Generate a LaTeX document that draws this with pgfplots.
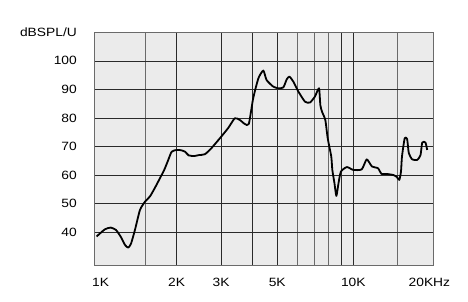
\documentclass[border=0pt]{standalone}
\usepackage{fontspec}
\setmainfont{Liberation Sans}[FakeStretch=1.15]
\usepackage{pgfplots}
\pgfplotsset{compat=1.18}
\definecolor{bgc}{HTML}{EBEBEB}
\definecolor{gridd}{HTML}{2A2A2A}
\definecolor{gridl}{HTML}{6A6A6A}
\begin{document}
\fontsize{12}{14}\selectfont
\begin{tikzpicture}
\begin{axis}[
  at={(0,0)}, anchor=south west,
  scale only axis, width=339pt, height=232.7pt,
  xmode=log, xmin=942, xmax=20670,
  ymin=28.5, ymax=110,
  axis background/.style={fill=bgc},
  axis line style={gridl, line width=0.8pt},
  xtick={2000,3000,4000,5000,9000,10000},
  xticklabels={2K,3K,,5K,,10K},
  minor xtick={1500,6000,7000,8000,15000},
  extra x ticks={1000,20000},
  extra x tick labels={1K,20KHz},
  extra x tick style={grid=none, major tick length=0pt},
  ytick={40,50,60,70,80,90,100,110},
  yticklabels={40,50,60,70,80,90,100,dBSPL/U},
  xmajorgrids, xminorgrids, ymajorgrids,
  major grid style={gridd, line width=0.7pt},
  minor grid style={gridl, line width=0.8pt},
  major tick length=0pt, minor tick length=0pt,
  xticklabel style={yshift=-9pt},
  yticklabel style={xshift=-13pt},
  /pgf/number format/assume math mode=true,
  log basis x=10,
]
\addplot[black, line width=1.8pt, smooth, tension=0.35, line join=round] coordinates {
(965,38.5) (1040,41.0) (1097,41.6) (1150,40.8) (1200,38.5) (1250,35.5) (1287,34.6)
(1320,36.0) (1368,40.8) (1432,47.8) (1500,50.7) (1568,52.5) (1640,55.5) (1718,58.9)
(1790,62.0) (1853,65.3) (1912,68.2) (2000,68.8) (2080,68.7) (2157,68.2) (2230,66.9)
(2295,66.7) (2362,66.7) (2450,67.0) (2588,67.3) (2750,69.5) (2966,72.9) (3200,76.5)
(3398,79.9) (3556,79.3) (3721,77.9) (3860,77.9) (4017,86.9) (4212,93.9) (4406,96.6)
(4537,93.3) (4817,91.0) (5050,90.4) (5286,90.7) (5450,93.5) (5586,94.5) (5793,92.7)
(6067,89.2) (6439,85.7) (6738,85.4) (7050,87.5) (7316,90.4) (7406,84.5) (7520,82.2)
(7750,79.3) (7920,72.9) (8180,66.5) (8260,61.8) (8420,57.2) (8570,52.7) (8740,57.2)
(8930,61.2) (9430,62.8) (10000,61.8) (10800,62.0) (11300,65.5) (11850,63.0) (12520,62.4)
(12930,60.4) (13550,60.4) (14430,60.0) (14880,59.3) (15200,58.3) (15440,61.2) (15580,66.5)
(15970,72.9) (16330,72.6) (16580,67.7) (17100,65.5) (17900,65.3) (18450,67.0) (18740,71.4)
(19300,71.4) (19600,68.8)
};
\end{axis}
\path (-94pt,-36pt) rectangle (374pt,265pt);
\end{tikzpicture}
\end{document}
